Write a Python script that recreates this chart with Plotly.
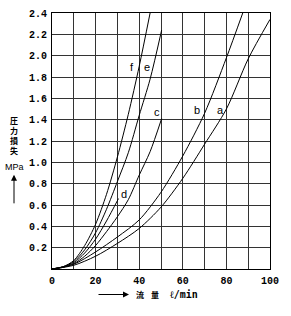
import plotly.graph_objects as go

# ---- data ----
flow_f = [0, 5, 10, 15, 20, 25, 30, 35, 40, 45]
loss_f = [0, 0.02, 0.08, 0.22, 0.42, 0.70, 1.05, 1.45, 1.90, 2.40]

flow_e = [0, 5, 10, 15, 20, 25, 30, 35, 40, 45, 50.3]
loss_e = [0, 0.02, 0.07, 0.18, 0.34, 0.56, 0.82, 1.09, 1.44, 1.78, 2.24]

flow_d = [0, 5, 10, 15, 20, 25, 30.5]
loss_d = [0, 0.02, 0.06, 0.15, 0.28, 0.45, 0.66]

flow_c = [0, 5, 10, 15, 20, 25, 30, 35, 40, 45, 50.3]
loss_c = [0, 0.015, 0.05, 0.12, 0.22, 0.35, 0.49, 0.65, 0.88, 1.10, 1.41]

flow_b = [0, 10, 20, 30, 40, 50, 60, 70, 80, 87.5]
loss_b = [0, 0.045, 0.16, 0.30, 0.46, 0.72, 1.06, 1.46, 1.98, 2.40]

flow_a = [0, 10, 20, 30, 40, 50, 60, 70, 80, 90, 100]
loss_a = [0, 0.035, 0.12, 0.24, 0.38, 0.58, 0.85, 1.17, 1.50, 1.97, 2.34]

curve_names = ["f", "e", "d", "c", "b", "a"]
label_q = [36.6, 43.4, 32.9, 48.0, 66.4, 77.5]
label_p = [1.89, 1.89, 0.70, 1.47, 1.49, 1.49]

x_tick_vals = [0, 10, 20, 30, 40, 50, 60, 70, 80, 90, 100]
x_tick_text = ["0", "", "20", "", "40", "", "60", "", "80", "", "100"]
y_tick_vals = [0, 0.2, 0.4, 0.6, 0.8, 1.0, 1.2, 1.4, 1.6, 1.8, 2.0, 2.2, 2.4]
y_tick_text = ["", "0.2", "0.4", "0.6", "0.8", "1.0", "1.2", "1.4", "1.6", "1.8", "2.0", "2.2", "2.4"]

y_title_chars = ["圧", "力", "損", "失"]
x_title_chars = ["流", "量"]
x_unit = "ℓ/min"

# ---- layout helpers ----
W, H = 291, 316
L, R, T, B = 52, 21, 8, 47
PW, PH = W - L - R, H - T - B

def px(xp):
    return (xp - L) / PW

def py(yp):
    return (H - B - yp) / PH

fig = go.Figure()
series = [(flow_f, loss_f), (flow_e, loss_e), (flow_d, loss_d),
          (flow_c, loss_c), (flow_b, loss_b), (flow_a, loss_a)]
for name, (q, p) in zip(curve_names, series):
    fig.add_trace(go.Scatter(x=q, y=p, mode="lines", name=name,
                             line=dict(color="black", width=1, shape="spline", smoothing=0.8),
                             showlegend=False, hoverinfo="skip"))

annotations = []
for name, q, p in zip(curve_names, label_q, label_p):
    annotations.append(dict(x=q, y=p, xref="x", yref="y", text=name, showarrow=False,
                            font=dict(family="Liberation Sans", size=11, color="black")))

def paper_text(xp, yp, text, font, xanchor="center"):
    return dict(x=px(xp), y=py(yp), xref="paper", yref="paper", text=text,
                showarrow=False, xanchor=xanchor, yanchor="middle", font=font)

cjk = dict(family="Noto Sans CJK JP", size=8, color="black", weight="bold")

# vertical y title
for i, ch in enumerate(y_title_chars):
    annotations.append(paper_text(14, 118 + i * 10, ch, cjk))
annotations.append(paper_text(14, 165, "MPa",
                              dict(family="Liberation Sans", size=9, color="black")))
# up arrow
annotations.append(dict(x=px(14), y=py(173), xref="paper", yref="paper", text="",
                        showarrow=True, ax=0, ay=30, arrowhead=2, arrowsize=1.2,
                        arrowwidth=1, arrowcolor="black"))
# right arrow for x title
annotations.append(dict(x=px(129), y=py(295), xref="paper", yref="paper", text="",
                        showarrow=True, ax=-32, ay=0, arrowhead=2, arrowsize=1.2,
                        arrowwidth=1, arrowcolor="black"))
for xc, ch in zip([140, 155], x_title_chars):
    annotations.append(paper_text(xc, 295, ch, cjk))
annotations.append(paper_text(168, 295, x_unit,
                              dict(family="DejaVu Sans Mono", size=10, color="black", weight="bold"),
                              xanchor="left"))

tickfont = dict(family="Liberation Mono", size=10, color="black", weight="bold")

fig.update_layout(
    width=W, height=H,
    margin=dict(l=L, r=R, t=T, b=B),
    paper_bgcolor="white", plot_bgcolor="white",
    annotations=annotations,
    xaxis=dict(range=[0, 100], tickvals=x_tick_vals, ticktext=x_tick_text,
               showgrid=True, gridcolor="#333333", gridwidth=1,
               showline=True, linecolor="black", linewidth=1, mirror=True,
               ticks="outside", ticklen=2, tickcolor="rgba(0,0,0,0)",
               tickfont=tickfont, zeroline=False, fixedrange=True),
    yaxis=dict(range=[0, 2.4], tickvals=y_tick_vals, ticktext=y_tick_text,
               showgrid=True, gridcolor="#333333", gridwidth=1,
               showline=True, linecolor="black", linewidth=1, mirror=True,
               ticks="outside", ticklen=2, tickcolor="rgba(0,0,0,0)",
               tickfont=tickfont, zeroline=False, fixedrange=True),
)

fig.write_html("out.html", config={"displayModeBar": False})
